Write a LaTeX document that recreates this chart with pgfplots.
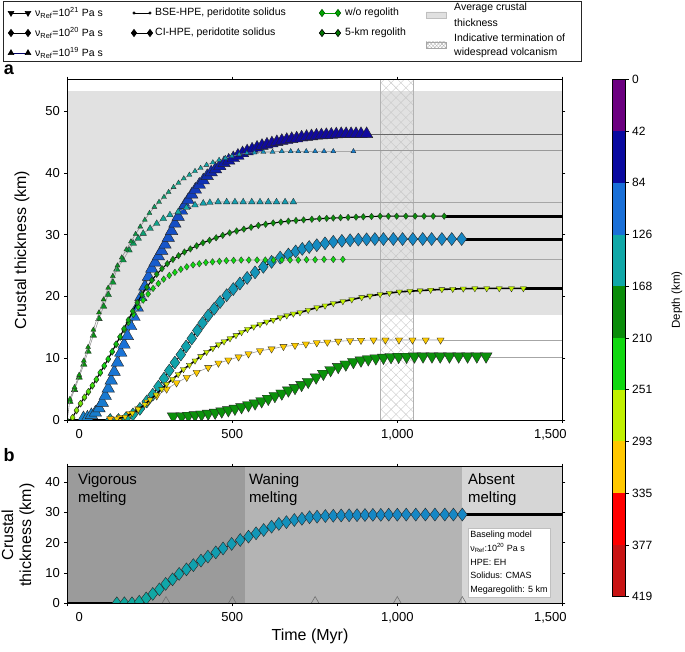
\documentclass[border=0pt]{standalone}
\usepackage{fontspec}
\setmainfont{Liberation Sans}
\usepackage{pgfplots}
\pgfplotsset{compat=1.18}
\usetikzlibrary{patterns.meta}
\definecolor{cb0}{RGB}{108,0,128}
\definecolor{cb1}{RGB}{10,10,160}
\definecolor{cb2}{RGB}{26,112,216}
\definecolor{cb3}{RGB}{16,168,168}
\definecolor{cb4}{RGB}{10,140,10}
\definecolor{cb5}{RGB}{16,216,16}
\definecolor{cb6}{RGB}{192,240,0}
\definecolor{cb7}{RGB}{255,200,0}
\definecolor{cb8}{RGB}{255,0,0}
\definecolor{cb9}{RGB}{200,20,20}
\definecolor{bandgray}{RGB}{225,225,225}
\definecolor{viggray}{RGB}{155,155,155}
\definecolor{wangray}{RGB}{180,180,180}
\definecolor{absgray}{RGB}{214,214,214}
\pgfplotsset{
  colormap={depth}{rgb255(0pt)=(108,0,128) rgb255(21pt)=(108,0,128) rgb255(63pt)=(10,10,160) rgb255(105pt)=(26,112,216) rgb255(147pt)=(16,168,168) rgb255(189pt)=(10,140,10) rgb255(231pt)=(16,216,16) rgb255(272pt)=(192,240,0) rgb255(314pt)=(255,200,0) rgb255(356pt)=(255,0,0) rgb255(398pt)=(200,20,20) rgb255(419pt)=(200,20,20)},
  ser/.style={scatter, point meta=explicit, scatter/use mapped color={draw=black!85, fill=mapped color}},
  panel/.style={scale only axis, anchor=south west, width=495pt, xmin=0, xmax=1500,
    xtick={0,500,1000,1500}, xticklabels={\hspace*{24pt}0,500,{1,000},{1,500\hspace*{24pt}}},
    tick align=outside, major tick length=3pt, tick style={black, line width=0.8pt},
    axis line style={line width=0.9pt}, axis on top,
    ticklabel style={font=\fontsize{13}{13}\selectfont},
    /pgf/number format/assume math mode=true,
    xticklabel style={yshift=-3pt}, yticklabel style={xshift=-1pt},
    colormap name=depth, point meta min=0, point meta max=419, clip marker paths=true},
}
\begin{document}
\begin{tikzpicture}[x=1pt,y=1pt]
\path[use as bounding box] (0,0) rectangle (685,652);

% ---------------- panel a ----------------
\begin{axis}[panel, at={(67.3pt,232pt)}, height=340.3pt, ymin=0, ymax=55.1, ytick={0,10,...,50}]
\addplot[fill=bandgray, draw=none] coordinates {(0,17)(1500,17)(1500,53.2)(0,53.2)};
\addplot[draw=none, pattern={Lines[angle=45,distance=7pt,line width=0.4pt]}, pattern color=black!22] coordinates {(948,0)(1050,0)(1050,55.1)(948,55.1)};
\addplot[draw=none, pattern={Lines[angle=-45,distance=7pt,line width=0.4pt]}, pattern color=black!22] coordinates {(948,0)(1050,0)(1050,55.1)(948,55.1)};
\addplot[black!30, line width=1pt] coordinates {(948,0)(948,55.1)};
\addplot[black!30, line width=1pt] coordinates {(1050,0)(1050,55.1)};
% plateau extensions
\addplot[black!60, line width=0.8pt] coordinates {(907,46.3)(1500,46.3)};
\addplot[black!40, line width=0.8pt] coordinates {(867,43.6)(1500,43.6)};
\addplot[black!35, line width=0.8pt] coordinates {(685,35.3)(1500,35.3)};
\addplot[black!35, line width=0.8pt] coordinates {(835,25.95)(1500,25.95)};
\addplot[black!35, line width=0.8pt] coordinates {(1131,12.9)(1500,12.9)};
\addplot[black!35, line width=0.8pt] coordinates {(1269,10.2)(1500,10.2)};
\addplot[black, line width=3pt] coordinates {(1142,33.0)(1500,33.0)};
\addplot[black, line width=3pt] coordinates {(1195,29.3)(1500,29.3)};
\addplot[black, line width=3pt] coordinates {(1382,21.3)(1500,21.3)};
\addplot[black, line width=1.5pt] coordinates {(0,0)(150,0)};
% C: big up-triangles
\addplot[ser, black!80, line width=0.8pt, mark=triangle*, mark size=7.2pt, mark options={line width=0.4pt}] table[meta index=2] {
49 0.3 118
61 0.4 117
73 0.8 116
85 1.2 115
96 1.9 114
106 2.8 113
115 3.9 112
124 5.1 111
133 6.4 110
142 7.8 109
152 9.3 108
162 10.9 107
172 12.2 106
182 13.6 105
192 15.2 104
202 16.7 103
212 18.2 102
223 19.9 101
235 21.6 100
246 23.2 99
256 24.5 98
266 25.5 97
276 26.5 96
286 27.4 95
296 28.4 94
306 29.5 93
316 30.6 92
326 31.8 91
336 32.9 90
346 33.9 89
356 34.8 88
366 35.6 87
377 36.5 85
388 37.3 83
400 38.1 81
412 38.8 79
424 39.5 77
436 40.1 75
449 40.6 73
462 41.1 71
475 41.6 69
489 42.0 67
503 42.4 66
517 42.8 65
531 43.2 64
545 43.5 63
560 43.8 62
575 44.1 62
590 44.4 61
605 44.6 61
620 44.8 60
635 45.0 60
650 45.2 60
665 45.35 60
680 45.5 60
695 45.6 60
710 45.75 60
725 45.85 60
740 45.95 60
755 46.05 60
770 46.1 60
785 46.15 60
800 46.2 60
815 46.25 60
830 46.3 60
845 46.3 60
860 46.3 60
875 46.3 60
890 46.3 60
907 46.3 60
};
% B: medium up-triangles
\addplot[ser, black!40, line width=0.6pt, mark=triangle*, mark size=3.8pt, mark options={line width=0.3pt}] table[meta index=2] {
8 3.0 190
22 4.9 190
36 6.9 189
50 9.0 188
63 11.1 187
79 13.7 186
96 16.4 184
110 18.4 182
124 20.3 180
138 22.3 178
150 24.4 176
169 25.9 173
187 27.5 170
200 28.6 167
215 29.4 164
230 30.2 161
251 31.0 158
271 31.8 155
291 32.6 152
311 33.2 150
336 33.7 148
361 34.4 146
387 34.8 144
412 35.1 143
432 35.2 142
457 35.3 141
483 35.3 140
508 35.3 140
533 35.3 139
559 35.3 139
584 35.3 139
609 35.3 138
634 35.3 138
660 35.3 138
685 35.3 138
};
% A: small up-triangles
\addplot[ser, black!45, line width=0.6pt, mark=triangle*, mark size=2.9pt, mark options={line width=0.3pt}] table[meta index=2] {
0 0 200
8 3.4 200
22 5.3 200
36 7.3 198
50 9.6 196
63 11.8 194
79 14.6 192
96 17.4 190
110 19.5 188
124 21.4 186
138 23.3 184
152 25.0 182
165 26.3 180
179 27.6 178
193 28.9 176
207 30.1 174
221 31.3 172
235 32.4 170
249 33.5 168
264 34.5 166
278 35.3 164
293 36.1 162
307 36.9 160
322 37.7 158
337 38.4 156
353 39.1 154
370 39.7 152
387 40.3 150
404 40.8 148
422 41.3 146
441 41.7 144
460 42.1 142
479 42.4 140
499 42.7 138
521 43.0 136
544 43.2 134
567 43.3 132
594 43.4 130
622 43.4 128
650 43.5 126
677 43.5 124
700 43.5 122
724 43.5 120
751 43.5 118
778 43.5 117
806 43.5 116
867 43.5 115
};
% F: big diamonds
\addplot[ser, black, line width=1pt, mark=diamond*, mark size=6.5pt, mark options={line width=0.4pt}] table[meta index=2] {
130 0.0 150
155 0.0 150
178 0.3 150
199 0.9 149
220 1.8 148
241 3.0 147
259 4.1 146
276 5.4 145
293 6.7 145
309 8.0 144
326 9.3 144
344 10.6 143
360 11.9 143
377 13.2 142
394 14.5 141
410 15.7 140
427 16.9 139
445 18.0 138
463 19.1 137
483 20.2 136
503 21.2 135
523 22.1 134
545 23.0 133
569 23.9 132
594 24.8 131
619 25.6 130
645 26.3 129
670 26.8 128
692 27.3 127
712 27.7 126
733 28.0 126
756 28.3 125
781 28.6 125
806 28.85 124
832 29.0 124
857 29.1 124
882 29.2 123
907 29.25 123
932 29.3 123
958 29.3 123
988 29.3 122
1016 29.3 122
1047 29.3 122
1077 29.3 122
1104 29.3 122
1135 29.3 122
1165 29.3 122
1195 29.3 122
};
% I: big down-triangles
\addplot[ser, black!40, line width=0.6pt, mark=triangle*, mark size=6.9pt, mark options={rotate=180, line width=0.4pt}] table[meta index=2] {
321 0.6 192
347 0.6 192
367 0.7 192
387 0.8 192
407 0.9 192
427 1.05 192
448 1.2 192
468 1.4 192
488 1.6 192
508 1.85 192
528 2.1 192
549 2.4 192
569 2.7 192
589 3.05 192
609 3.45 192
629 3.9 192
650 4.3 192
670 4.8 192
690 5.2 192
710 5.7 192
730 6.2 192
754 6.9 192
776 7.5 192
798 8.1 192
821 8.6 192
844 9.0 192
867 9.4 192
890 9.65 192
912 9.85 192
935 10.0 192
958 10.1 192
981 10.2 192
1004 10.25 192
1028 10.25 192
1052 10.3 192
1078 10.3 192
1105 10.3 192
1130 10.3 192
1158 10.3 192
1186 10.3 192
1213 10.3 192
1241 10.3 192
1269 10.3 192
};
% H: yellow down-triangles
\addplot[ser, black!40, line width=0.6pt, mark=triangle*, mark size=4.2pt, mark options={rotate=180, line width=0.3pt}] table[meta index=2] {
130 0.2 318
160 0.4 316
190 1.0 315
215 1.8 314
243 2.9 313
271 3.9 312
301 5.0 312
331 6.0 312
362 6.9 312
392 7.7 312
427 8.5 312
458 9.2 312
488 9.7 312
519 10.2 312
549 10.7 312
584 11.2 312
619 11.5 312
655 11.9 312
690 12.1 312
723 12.3 312
756 12.5 312
788 12.6 312
821 12.75 312
857 12.85 312
890 12.9 312
928 12.95 312
964 12.95 312
1005 12.95 312
1046 12.95 312
1086 12.95 312
1131 12.95 312
};
% G: small down-triangles, black line
\addplot[ser, black, line width=1.6pt, mark=triangle*, mark size=3.5pt, mark options={rotate=180, line width=0.3pt}] table[meta index=2] {
150 0.2 305
175 0.5 303
197 1.1 300
215 1.7 298
235 2.5 296
251 3.3 294
269 4.1 292
286 5.0 290
301 5.8 288
319 6.6 286
336 7.4 284
352 8.2 282
370 8.9 280
387 9.6 279
404 10.3 278
422 11.0 277
441 11.6 276
458 12.2 275
475 12.7 275
493 13.2 274
511 13.7 274
528 14.2 274
546 14.7 273
565 15.1 273
584 15.5 273
604 15.9 272
624 16.2 272
645 16.6 272
665 16.9 272
685 17.2 272
705 17.4 272
730 17.8 272
756 18.2 272
781 18.5 272
806 18.9 272
835 19.2 272
862 19.5 272
892 19.85 272
917 20.1 272
948 20.35 272
976 20.55 272
1006 20.75 272
1038 20.85 272
1069 20.95 272
1101 21.05 272
1135 21.15 272
1168 21.2 272
1200 21.25 272
1235 21.3 272
1271 21.3 272
1309 21.3 272
1346 21.3 272
1382 21.3 272
};
% E: light-green small diamonds, gray line
\addplot[ser, black!35, line width=0.7pt, mark=diamond*, mark size=3.3pt, mark options={line width=0.3pt}] table[meta index=2] {
16 0.3 262
28 1.5 258
40 2.6 254
52 3.6 250
64 4.5 247
76 5.5 244
88 6.5 241
100 7.6 238
112 8.7 236
124 9.8 235
136 11.0 234
148 12.2 233
160 13.4 232
172 14.6 232
185 15.8 231
200 17.1 231
215 18.3 231
230 19.4 231
245 20.4 231
260 21.3 231
276 22.1 231
292 22.8 231
309 23.4 231
326 23.9 231
344 24.4 231
362 24.8 231
381 25.1 231
400 25.3 231
420 25.5 231
440 25.6 231
461 25.7 231
482 25.8 231
504 25.85 231
527 25.9 231
550 25.9 231
575 25.9 231
600 25.9 231
625 25.9 231
650 25.9 231
675 25.9 231
700 25.9 231
725 25.95 231
751 25.95 231
778 26.0 231
806 26.0 231
835 26.0 231
};
% D: dark-green small diamonds, black line
\addplot[ser, black, line width=1.1pt, mark=diamond*, mark size=3.3pt, mark options={line width=0.3pt}] table[meta index=2] {
16 0.4 262
28 1.6 258
40 2.7 254
52 3.7 250
64 4.6 246
76 5.6 242
88 6.6 238
100 7.7 234
112 8.8 230
124 9.9 226
136 11.1 222
148 12.3 218
160 13.5 214
172 14.8 210
185 16.2 206
198 17.6 203
212 19.0 200
226 20.3 198
241 21.5 196
256 22.6 195
271 23.6 194
287 24.5 193
303 25.3 192
320 26.0 191
337 26.6 190
355 27.2 190
373 27.7 190
392 28.2 190
411 28.7 190
431 29.1 190
451 29.5 190
471 29.9 190
492 30.3 190
513 30.6 190
535 30.9 190
557 31.2 190
579 31.5 190
601 31.7 190
624 31.9 190
647 32.05 190
670 32.2 190
693 32.3 190
716 32.4 190
741 32.5 190
764 32.6 190
786 32.65 190
806 32.7 190
828 32.75 190
851 32.8 190
875 32.85 190
897 32.9 190
922 32.95 190
948 33.0 190
973 33.0 190
998 33.0 190
1026 33.0 190
1054 33.0 190
1081 33.0 190
1109 33.0 190
1142 33.0 190
};
\end{axis}

% ---------------- panel b ----------------
\begin{axis}[panel, at={(67.3pt,48.7pt)}, height=136.6pt, ymin=0, ymax=45.1, ytick={0,10,...,40}]
\addplot[fill=viggray, draw=none] coordinates {(0,0)(538,0)(538,45.1)(0,45.1)};
\addplot[fill=wangray, draw=none] coordinates {(538,0)(1197,0)(1197,45.1)(538,45.1)};
\addplot[fill=absgray, draw=none] coordinates {(1197,0)(1500,0)(1500,45.1)(1197,45.1)};
\addplot[only marks, mark=triangle, mark size=4.5pt, mark options={draw=black!55, line width=0.6pt}] coordinates {(299,0.74)(500,0.74)(751,0.74)(1000,0.74)(1197,0.74)};
\addplot[black, line width=2pt] coordinates {(0,0)(150,0)};
\addplot[black, line width=3pt] coordinates {(1197,29.3)(1500,29.3)};
\addplot[ser, black, line width=0.8pt, mark=diamond*, mark size=6.5pt, mark options={line width=0.4pt}] table[meta index=2] {
150 0 150
173 0 150
196 0 150
218 0.5 150
239 1.6 149
259 3.1 148
279 4.6 147
298 6.4 146
319 7.9 145
339 9.7 144
361 11.2 143
382 12.6 142
405 14.1 141
426 15.4 140
450 16.8 139
472 18.1 138
498 19.6 137
524 20.9 136
549 22.0 135
572 23.1 134
595 24.2 133
619 25.3 132
641 26.2 131
664 26.8 130
688 27.5 129
711 27.9 128
734 28.4 127
757 28.6 126
782 28.8 125
806 28.9 124
830 29.0 124
854 29.05 123
878 29.1 123
902 29.15 123
926 29.2 122
950 29.2 122
974 29.25 122
1000 29.25 122
1027 29.3 122
1056 29.3 122
1085 29.3 122
1114 29.3 122
1144 29.3 122
1170 29.3 122
1197 29.3 122
};
\node[anchor=north west, inner sep=0pt, align=left, font=\fontsize{15}{17.5}\selectfont] at (axis cs:32,42.8) {Vigorous\\melting};
\node[anchor=north west, inner sep=0pt, align=left, font=\fontsize{15}{17.5}\selectfont] at (axis cs:550,42.8) {Waning\\melting};
\node[anchor=north west, inner sep=0pt, align=left, font=\fontsize{15}{17.5}\selectfont] at (axis cs:1214,42.8) {Absent\\melting};
\node[anchor=north west, draw=black!25, fill=white, inner sep=2.5pt, align=left, font=\fontsize{9}{13.8}\selectfont] at (axis cs:1213,24.8) {Baseling model\\ν\textsubscript{Ref}:10\textsuperscript{20} Pa s\\HPE: EH\\Solidus: CMAS\\Megaregolith: 5 km};
\end{axis}

% ---------------- colorbar ----------------
\begin{axis}[scale only axis, anchor=south west, at={(612pt,55.3pt)}, width=13.7pt, height=517.4pt,
  xmin=0, xmax=1, ymin=0, ymax=419, y dir=reverse, xtick=\empty,
  ytick={0,41.9,83.8,125.7,167.6,209.5,251.4,293.3,335.2,377.1,419},
  yticklabels={0,42,84,126,168,210,251,293,335,377,419},
  yticklabel pos=right, ytick pos=right, tick align=outside, major tick length=3pt,
  tick style={black, line width=0.6pt}, axis line style={line width=0.6pt}, axis on top,
  ticklabel style={font=\fontsize{12}{12}\selectfont}]
\addplot[fill=cb0, draw=none] coordinates {(0,0)(1,0)(1,41.9)(0,41.9)};
\addplot[fill=cb1, draw=none] coordinates {(0,41.9)(1,41.9)(1,83.8)(0,83.8)};
\addplot[fill=cb2, draw=none] coordinates {(0,83.8)(1,83.8)(1,125.7)(0,125.7)};
\addplot[fill=cb3, draw=none] coordinates {(0,125.7)(1,125.7)(1,167.6)(0,167.6)};
\addplot[fill=cb4, draw=none] coordinates {(0,167.6)(1,167.6)(1,209.5)(0,209.5)};
\addplot[fill=cb5, draw=none] coordinates {(0,209.5)(1,209.5)(1,251.4)(0,251.4)};
\addplot[fill=cb6, draw=none] coordinates {(0,251.4)(1,251.4)(1,293.3)(0,293.3)};
\addplot[fill=cb7, draw=none] coordinates {(0,293.3)(1,293.3)(1,335.2)(0,335.2)};
\addplot[fill=cb8, draw=none] coordinates {(0,335.2)(1,335.2)(1,377.1)(0,377.1)};
\addplot[fill=cb9, draw=none] coordinates {(0,377.1)(1,377.1)(1,419)(0,419)};
\end{axis}

% ---------------- overlay: legend and labels ----------------
\begin{axis}[scale only axis, anchor=south west, at={(0pt,0pt)}, width=685pt, height=652pt,
  xmin=0, xmax=685, ymin=0, ymax=652, y dir=reverse, hide axis, clip=false]
\addplot[black!85, line width=0.9pt] coordinates {(3.5,1)(581,1)(581,61)(3.5,61)(3.5,1)};
\addplot[black, line width=0.6pt, mark=triangle*, mark size=3.3pt, mark options={rotate=180, fill=black}] coordinates {(11,13)(28,13)};
\addplot[black, line width=0.6pt, mark=diamond*, mark size=3.6pt, mark options={fill=black}] coordinates {(11,33)(28,33)};
\addplot[black!60!blue, line width=0.6pt, mark=triangle*, mark size=3.3pt, mark options={fill=black, draw=black}] coordinates {(11,53)(28,53)};
\addplot[black, line width=0.6pt, mark=*, mark size=1.2pt, mark options={fill=black}] coordinates {(134,13)(150,13)};
\addplot[black, line width=0.6pt, mark=diamond*, mark size=3.6pt, mark options={fill=black}] coordinates {(134,33)(150,33)};
\addplot[green!60!black, line width=0.6pt, mark=diamond*, mark size=3.6pt, mark options={fill=green!65!black, draw=green!35!black}] coordinates {(322,13)(338,13)};
\addplot[black, line width=0.6pt, mark=diamond*, mark size=3.6pt, mark options={fill=green!45!black, draw=black}] coordinates {(322,33)(338,33)};
\addplot[fill=black!12, draw=black!25, line width=0.5pt] coordinates {(426,12)(446,12)(446,18)(426,18)(426,12)};
\addplot[draw=black!35, line width=0.5pt, pattern={Lines[angle=45,distance=2.5pt,line width=0.3pt]}, pattern color=black!35] coordinates {(426,42)(446,42)(446,48)(426,48)(426,42)};
\addplot[draw=none, pattern={Lines[angle=-45,distance=2.5pt,line width=0.3pt]}, pattern color=black!35] coordinates {(426,42)(446,42)(446,48)(426,48)(426,42)};
\node[anchor=west, inner sep=0pt, font=\fontsize{10.5}{12}\selectfont] at (35,13) {ν\textsubscript{Ref}=10\textsuperscript{21} Pa s};
\node[anchor=west, inner sep=0pt, font=\fontsize{10.5}{12}\selectfont] at (35,33) {ν\textsubscript{Ref}=10\textsuperscript{20} Pa s};
\node[anchor=west, inner sep=0pt, font=\fontsize{10.5}{12}\selectfont] at (35,53) {ν\textsubscript{Ref}=10\textsuperscript{19} Pa s};
\node[anchor=west, inner sep=0pt, font=\fontsize{10.5}{12}\selectfont] at (155,13) {BSE-HPE, peridotite solidus};
\node[anchor=west, inner sep=0pt, font=\fontsize{10.5}{12}\selectfont] at (155,33) {CI-HPE, peridotite solidus};
\node[anchor=west, inner sep=0pt, font=\fontsize{10.5}{12}\selectfont] at (345,13) {w/o regolith};
\node[anchor=west, inner sep=0pt, font=\fontsize{10.5}{12}\selectfont] at (345,33) {5-km regolith};
\node[anchor=west, inner sep=0pt, align=left, font=\fontsize{10.5}{15.5}\selectfont] at (454,15) {Average crustal\\thickness};
\node[anchor=west, inner sep=0pt, align=left, font=\fontsize{10.5}{14.5}\selectfont] at (454,46) {Indicative termination of\\widespread volcanism};
\node[font=\fontsize{18}{18}\bfseries\selectfont] at (9,70) {a};
\node[font=\fontsize{18}{18}\bfseries\selectfont] at (9,455) {b};
\node[rotate=90, font=\fontsize{16}{16}\selectfont] at (22,250) {Crustal thickness (km)};
\node[rotate=90, align=center, font=\fontsize{16}{18}\selectfont] at (18,535) {Crustal\\thickness (km)};
\node[font=\fontsize{16}{16}\selectfont] at (310,636) {Time (Myr)};
\node[rotate=90, font=\fontsize{11.5}{11.5}\selectfont] at (677,300) {Depth (km)};
\end{axis}
\end{tikzpicture}
\end{document}
